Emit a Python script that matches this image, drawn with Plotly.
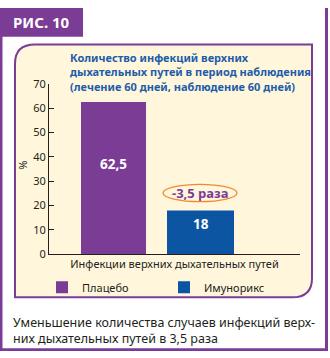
import plotly.graph_objects as go

W, H = 330, 358

# ---- data ----
category = ["Инфекции верхних дыхательных путей"]
series_names = ["Плацебо", "Имунорикс"]
values = [62.5, 18]
y_ticks = [0, 10, 20, 30, 40, 50, 60, 70]
title_lines = ["Количество инфекций верхних",
               "дыхательных путей в период наблюдения",
               "(лечение 60 дней, наблюдение 60 дней)"]
fig_label = "РИС. 10"
caption_lines = ["Уменьшение количества случаев инфекций верх-",
                 "них дыхательных путей в 3,5 раза"]
y_title = "%"

# ---- styles ----
PURPLE = "#7B3C96"
BLUE = "#0B55A3"
TITLE_BLUE = "#1C5DA9"
CREAM = "#FFF6DC"
ORANGE = "#F08A32"
DARK = "#231F20"
FONT = "Noto Sans"
colors = [PURPLE, BLUE]
bar_offsets = [-0.3725, -0.0299]
bar_widths = [0.259, 0.267]
label_y = [37, 12.6]


def px(x):
    return x / W


def py(y):
    return 1 - y / H


fig = go.Figure()
for name, v, c, off, wd in zip(series_names, values, colors, bar_offsets, bar_widths):
    fig.add_trace(go.Bar(x=category, y=[v], name=name, marker=dict(color=c, line=dict(width=0)),
                         offset=off, width=wd))

shapes = []
# outer frame
shapes.append(dict(type="rect", xref="paper", yref="paper", x0=px(0), x1=px(2.5), y0=py(358), y1=py(0),
                   fillcolor=PURPLE, line=dict(width=0), layer="below"))
shapes.append(dict(type="rect", xref="paper", yref="paper", x0=px(325), x1=px(328), y0=py(358), y1=py(0),
                   fillcolor=PURPLE, line=dict(width=0), layer="below"))
shapes.append(dict(type="rect", xref="paper", yref="paper", x0=px(0), x1=px(328), y0=py(358), y1=py(355),
                   fillcolor=PURPLE, line=dict(width=0), layer="below"))
shapes.append(dict(type="rect", xref="paper", yref="paper", x0=px(0), x1=px(83), y0=py(30), y1=py(0),
                   fillcolor=PURPLE, line=dict(width=0), layer="below"))
# panel
L, R, T, B, r = 15, 312, 38, 302, 20
path = (f"M {px(L + r)},{py(T)} L {px(R)},{py(T)} L {px(R)},{py(B - r)} "
        f"Q {px(R)},{py(B)} {px(R - r)},{py(B)} L {px(L)},{py(B)} L {px(L)},{py(T + r)} "
        f"Q {px(L)},{py(T)} {px(L + r)},{py(T)} Z")
shapes.append(dict(type="path", xref="paper", yref="paper", path=path, fillcolor=CREAM,
                   line=dict(color=PURPLE, width=2), layer="below"))
# ellipse around ratio
shapes.append(dict(type="circle", xref="paper", yref="paper", x0=px(163), x1=px(237), y0=py(202), y1=py(184),
                   line=dict(color=ORANGE, width=1.3), fillcolor="rgba(0,0,0,0)"))

ann = []


def add_text(text, x, y, size, color, xanchor="center", textangle=0, align="center"):
    ann.append(dict(text=text, x=px(x), y=py(y), xref="paper", yref="paper", xanchor=xanchor,
                    yanchor="middle", showarrow=False, textangle=textangle, align=align,
                    font=dict(family=FONT, size=size, color=color)))


add_text(f"<b>{fig_label}</b>", 41, 15, 15, "white")
add_text("<b>" + "<br>".join(title_lines) + "</b>", 68, 67, 11, TITLE_BLUE, xanchor="left", align="left")
add_text("<br>".join(caption_lines), 11, 337, 12.5, DARK, xanchor="left", align="left")
add_text(y_title, 22.5, 164, 11, DARK, textangle=-90)
for v, off, wd, ly in zip(values, bar_offsets, bar_widths, label_y):
    ann.append(dict(text="<b>" + f"{v:g}".replace(".", ",") + "</b>", x=off + wd / 2, y=ly,
                    xref="x", yref="y", xanchor="center", yanchor="middle", showarrow=False,
                    font=dict(family=FONT, size=13.5, color="white")))
ratio = values[0] / values[1]
add_text("<b>" + f"-{ratio:.1f} раза".replace(".", ",") + "</b>", 200, 193, 13, PURPLE)

fig.update_layout(
    width=W, height=H, margin=dict(l=0, r=0, t=0, b=0),
    paper_bgcolor="white", plot_bgcolor="rgba(0,0,0,0)",
    barmode="overlay",
    shapes=shapes, annotations=ann,
    showlegend=True,
    legend=dict(orientation="h", x=px(42), y=py(291.5), xanchor="left", yanchor="middle",
                font=dict(family=FONT, size=11, color=DARK), bgcolor="rgba(0,0,0,0)",
                entrywidth=77, entrywidthmode="pixels", traceorder="normal"),
    xaxis=dict(domain=[px(49), px(300)], range=[-0.5, 0.5], type="category", showline=True,
               linecolor=DARK, linewidth=1, ticks="", showgrid=False, zeroline=False,
               tickfont=dict(family=FONT, size=11, color=DARK), fixedrange=True),
    yaxis=dict(domain=[py(257), py(79)], range=[0, 70], tickvals=y_ticks, ticks="inside", ticklen=5,
               tickcolor=DARK, showline=True, linecolor=DARK, linewidth=1, showgrid=False,
               zeroline=False, tickfont=dict(family=FONT, size=11, color=DARK), fixedrange=True),
)

fig.write_html("out.html")
